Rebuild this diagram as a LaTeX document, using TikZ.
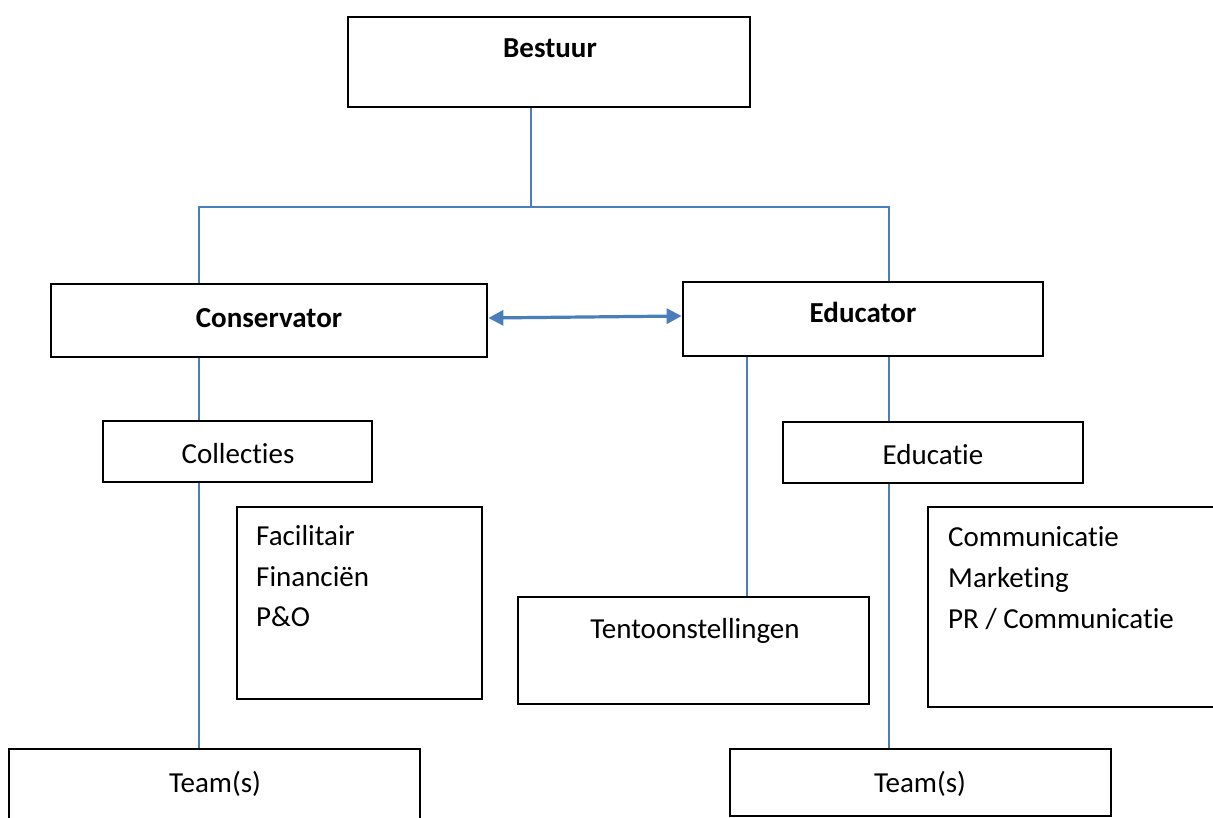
\documentclass[tikz,border=0pt]{standalone}
\usepackage{fontspec}
\setmainfont{Carlito}[Ligatures=NoCommon]
\usetikzlibrary{arrows.meta}
\definecolor{linkblue}{HTML}{4A7EBB}
\tikzset{
  box/.style={draw=black, line width=2.8pt, fill=white, inner sep=0pt, rectangle},
  thinbox/.style={draw=black, line width=1.2pt, fill=white, inner sep=0pt, rectangle},
  txt/.style={font=\fontsize{29}{35}\selectfont, anchor=base, inner sep=0pt},
  btxt/.style={font=\fontsize{29}{35}\selectfont\bfseries, anchor=base, inner sep=0pt},
  ltxt/.style={font=\fontsize{29}{35}\selectfont, anchor=base west, inner sep=0pt},
  conn/.style={draw=linkblue, line width=1.6pt},
  dbl/.style={draw=linkblue, line width=3.2pt, {Triangle[length=15pt,width=15pt]}-{Triangle[length=15pt,width=15pt]}}
}
\begin{document}
\begin{tikzpicture}[x=1pt,y=-1pt]
\clip (0,0) rectangle (1213,818);
\fill[white] (0,0) rectangle (1213,818);
% junction coordinates
\coordinate (jc) at (531,207);
\coordinate (lc) at (199,207);
\coordinate (rc) at (889,207);
\coordinate (tc) at (747,207);
% boxes
\node[box, minimum width=402pt, minimum height=90pt] (bestuur) at (549,62) {};
\node[box, minimum width=436pt, minimum height=73pt] (conservator) at (269,320.5) {};
\node[box, minimum width=360pt, minimum height=74pt] (educator) at (863,319) {};
\node[box, minimum width=269pt, minimum height=61pt] (collecties) at (237.5,451.5) {};
\node[box, minimum width=300pt, minimum height=61pt] (educatie) at (933,452.5) {};
\node[thinbox, minimum width=245pt, minimum height=192pt] (facil) at (359.5,603) {};
\node[box, minimum width=351pt, minimum height=107pt] (tentoon) at (693.5,650.5) {};
\node[thinbox, minimum width=297pt, minimum height=200pt] (comm) at (1076.5,607) {};
\node[box, minimum width=411pt, minimum height=91pt] (team1) at (214.5,794.5) {};
\node[box, minimum width=381pt, minimum height=67pt] (team2) at (920.5,782.5) {};
% connectors
\draw[conn] (bestuur.south -| jc) -- (jc);
\draw[conn] (conservator.north -| lc) -- (lc) -- (rc) -- (educator.north -| rc);
\draw[conn] (conservator.south -| lc) -- (collecties.north -| lc);
\draw[conn] (collecties.south -| lc) -- (team1.north -| lc);
\draw[conn] (educator.south -| rc) -- (educatie.north -| rc);
\draw[conn] (educatie.south -| rc) -- (team2.north -| rc);
\draw[conn] (educator.south -| tc) -- (tentoon.north -| tc);
\draw[dbl] ([yshift=2.5pt]conservator.east) -- ([yshift=3pt]educator.west);
% texts
\node[btxt] (t-bestuur) at (550,58) {Bestuur};
\node[btxt] (t-conservator) at (269,327) {Conservator};
\node[btxt] (t-educator) at (863,323) {Educator};
\node[txt] (t-collecties) at (238,463) {Collecties};
\node[txt] (t-educatie) at (933,464) {Educatie};
\node[ltxt] (t-facil1) at (256,545) {Facilitair};
\node[ltxt] (t-facil2) at (256,586) {Financiën};
\node[ltxt] (t-facil3) at (256,626) {P\&O};
\node[txt] (t-tentoon) at (695,638) {Tentoonstellingen};
\node[ltxt] (t-comm1) at (948,546) {Communicatie};
\node[ltxt] (t-comm2) at (948,587) {Marketing};
\node[ltxt] (t-comm3) at (948,628) {PR / Communicatie};
\node[txt] (t-team1) at (215,792) {Team(s)};
\node[txt] (t-team2) at (920,792) {Team(s)};
\end{tikzpicture}
\end{document}
